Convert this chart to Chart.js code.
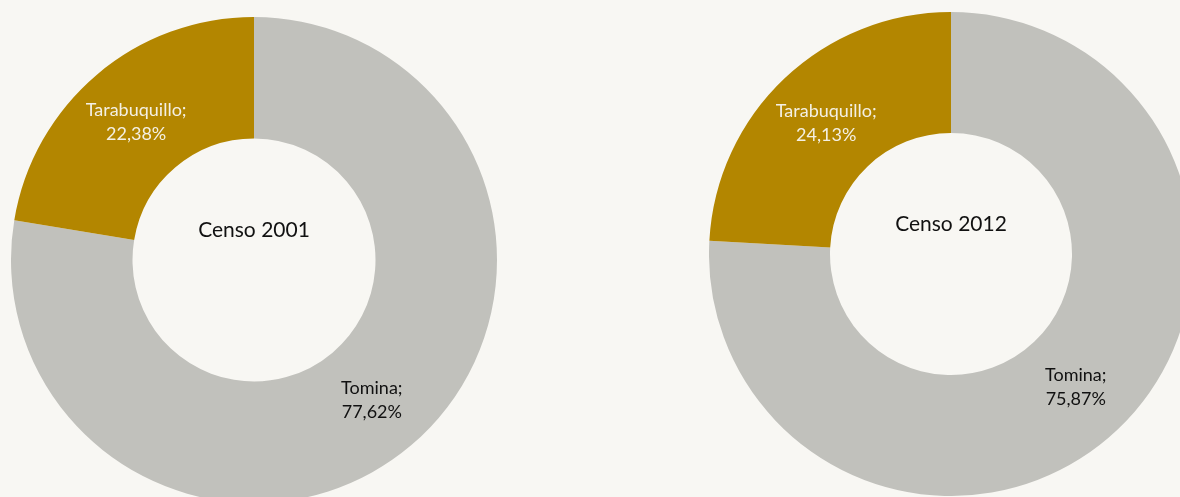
<!DOCTYPE html>
<html>
<head>
<meta charset="utf-8">
<script src="https://cdn.jsdelivr.net/npm/chart.js@4"></script>
<style>
  html, body { margin: 0; padding: 0; background: #f8f7f3; width: 1180px; height: 497px; overflow: hidden; position: relative; }
  .box { position: absolute; }
  #box2001 { left: 11px; top: 17px; width: 486px; height: 486px; }
  #box2012 { left: 709px; top: 12px; width: 484px; height: 484px; }
</style>
</head>
<body>
<div class="box" id="box2001"><canvas id="chart2001"></canvas></div>
<div class="box" id="box2012"><canvas id="chart2012"></canvas></div>
<script>
const categories = ["Tomina", "Tarabuquillo"];
const values2001 = [77.62, 22.38];
const values2012 = [75.87, 24.13];
const titles = ["Censo 2001", "Censo 2012"];
const sliceColors = ["#c1c1bc", "#b38600"];
const labelColors = ["#111111", "#f4f0e4"];
const fontFamily = "Lato, 'Open Sans', sans-serif";

// labels on each slice + title in the hole
const labelPlugin = {
  id: "sliceLabels",
  afterDatasetsDraw(chart, args, opts) {
    const ctx = chart.ctx;
    const meta = chart.getDatasetMeta(0);
    const data = chart.data.datasets[0].data;
    ctx.save();
    ctx.textAlign = "center";
    ctx.textBaseline = "middle";
    ctx.font = "18px " + fontFamily;
    meta.data.forEach((arc, i) => {
      const p = arc.getCenterPoint();
      const txt = data[i].toFixed(2).replace(".", ",") + "%";
      ctx.fillStyle = labelColors[i];
      ctx.fillText(chart.data.labels[i] + ";", p.x, p.y - 11);
      ctx.fillText(txt, p.x, p.y + 13);
    });
    const a = meta.data[0];
    ctx.fillStyle = "#111111";
    ctx.font = "21px " + fontFamily;
    ctx.fillText(opts.title, a.x, a.y - 30);
    ctx.restore();
  }
};

function makeChart(id, values, title) {
  return new Chart(document.getElementById(id).getContext("2d"), {
    type: "doughnut",
    data: {
      labels: categories,
      datasets: [
        {
          data: values,
          backgroundColor: sliceColors,
          borderWidth: 0,
        },
      ],
    },
    options: {
      responsive: true,
      maintainAspectRatio: false,
      animation: false,
      cutout: "50%",
      layout: { padding: 0 },
      plugins: {
        legend: { display: false },
        tooltip: { enabled: false },
        sliceLabels: { title: title },
      },
    },
    plugins: [labelPlugin],
  });
}

makeChart("chart2001", values2001, titles[0]);
makeChart("chart2012", values2012, titles[1]);
</script>
</body>
</html>
